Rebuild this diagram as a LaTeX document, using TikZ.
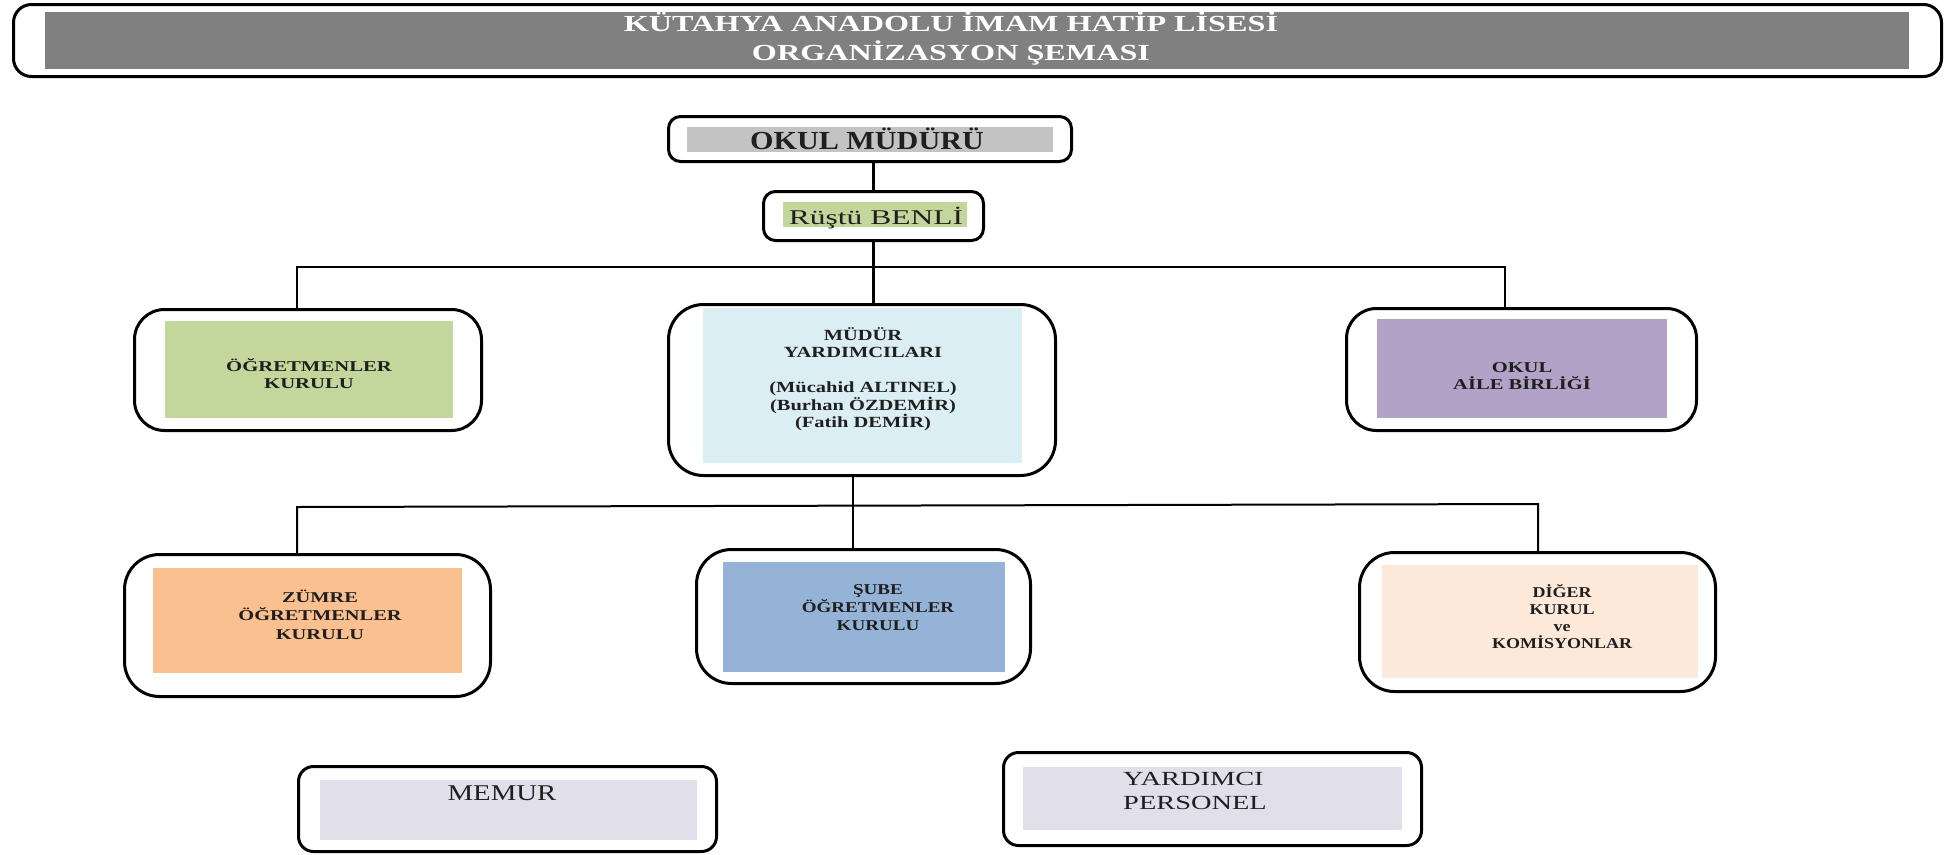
\documentclass[tikz,border=0pt]{standalone}
\usepackage{fontspec}
\usepackage{graphicx}
\setmainfont{Liberation Serif}
\definecolor{tgray}{HTML}{808080}
\definecolor{mgray}{HTML}{C3C3C3}
\definecolor{cgreen}{HTML}{C3D69B}
\definecolor{cblue}{HTML}{DBEEF4}
\definecolor{cpurp}{HTML}{B2A2C7}
\definecolor{corange}{HTML}{FAC090}
\definecolor{cbluetwo}{HTML}{95B3D7}
\definecolor{cpeach}{HTML}{FDE9D9}
\definecolor{clav}{HTML}{E1DFEA}
\newcommand{\myC}[1]{\hbox to 0pt{\hss#1\hss}}
\newcommand{\myL}[1]{\hbox{#1}}
\newcommand{\mlb}[4]{\scalebox{#1}[1]{\fontsize{#2}{#3}\selectfont\bfseries\vtop{\lineskiplimit=-100pt\relax#4}}}
\newcommand{\mlr}[4]{\scalebox{#1}[1]{\fontsize{#2}{#3}\selectfont\vtop{\lineskiplimit=-100pt\relax#4}}}
\begin{document}
\begin{tikzpicture}[x=1pt,y=-1pt,
  obox/.style={draw=black, line width=3pt, fill=white, inner sep=0pt},
  conn/.style={draw=black, line width=2.2pt},
  txt/.style={inner sep=0pt, anchor=base, text=black!88}]
\useasboundingbox (0,0) rectangle (1950,854);
\fill[white] (0,0) rectangle (1950,854);
% outer boxes
\node[obox, rounded corners=18pt, minimum width=1928pt, minimum height=72pt] (title) at (977.5,40.5) {};
\node[obox, rounded corners=12pt, minimum width=403pt, minimum height=45pt] (mudur) at (870,139) {};
\node[obox, rounded corners=12pt, minimum width=220pt, minimum height=49pt] (rustu) at (873.5,216) {};
\node[obox, rounded corners=30pt, minimum width=347pt, minimum height=121pt] (ogrt) at (308,370) {};
\node[obox, rounded corners=35pt, minimum width=387pt, minimum height=171pt] (yard) at (862,390) {};
\node[obox, rounded corners=30pt, minimum width=350pt, minimum height=122pt] (aile) at (1521.5,369.5) {};
\node[obox, rounded corners=35pt, minimum width=366pt, minimum height=142pt] (zumre) at (307.5,625.5) {};
\node[obox, rounded corners=35pt, minimum width=334pt, minimum height=134pt] (sube) at (863.5,616.5) {};
\node[obox, rounded corners=35pt, minimum width=356pt, minimum height=139pt] (diger) at (1537.5,622) {};
\node[obox, rounded corners=15pt, minimum width=418pt, minimum height=85pt] (memur) at (507.5,809) {};
\node[obox, rounded corners=15pt, minimum width=418pt, minimum height=93pt] (yrdp) at (1212.5,799) {};
% inner fills
\fill[tgray] (45,12) rectangle (1909,69);
\fill[mgray] (687,127) rectangle (1053,152);
\fill[cgreen] (783,202) rectangle (967,227);
\fill[cgreen] (165,321) rectangle (453,418);
\fill[cblue] (703,308) rectangle (1022,463);
\fill[cpurp] (1377,319) rectangle (1667,418);
\fill[corange] (153,568) rectangle (462,673);
\fill[cbluetwo] (723,562) rectangle (1005,672);
\fill[cpeach] (1382,565) rectangle (1698,678);
\fill[clav] (320,780) rectangle (697,840);
\fill[clav] (1023,767) rectangle (1402,830);
% connectors
\coordinate (j1L) at (297,267);
\coordinate (j1R) at (1505,267);
\coordinate (j2L) at (297,507);
\coordinate (j2M) at (853,506);
\coordinate (j2R) at (1538,504);
\draw[conn] (rustu.north |- mudur.south) -- (rustu.north);
\draw[conn] (rustu.south) -- (rustu.south |- yard.north);
\draw[conn, line width=2pt] (j1L |- ogrt.north) -- (j1L) -- (j1R) -- (j1R |- aile.north);
\draw[conn] (j2M |- yard.south) -- (j2M |- sube.north);
\draw[conn, line width=2pt] (j2L |- zumre.north) -- (j2L) -- (j2R) -- (j2R |- diger.north);
% texts
\node[txt, text=white] (ttl) at (951,31) {\mlb{1.4}{23}{29}{\myC{KÜTAHYA ANADOLU İMAM HATİP LİSESİ}\myC{ORGANİZASYON ŞEMASI}}};
\node[txt] (tmud) at (867,149) {\mlb{1.16}{26}{26}{\myC{OKUL MÜDÜRÜ}}};
\node[txt] (trus) at (876,224) {\mlr{1.5}{21}{21}{\myC{Rüştü BENLİ}}};
\node[txt] (togr) at (309,371) {\mlb{1.38}{15}{17}{\myC{ÖĞRETMENLER}\myC{KURULU}}};
\node[txt] (tyar) at (863,340) {\mlb{1.32}{15.5}{17.5}{\myC{MÜDÜR}\myC{YARDIMCILARI}\myC{}\myC{(Mücahid ALTINEL)}\myC{(Burhan ÖZDEMİR)}\myC{(Fatih DEMİR)}}};
\node[txt] (tail) at (1522,372) {\mlb{1.37}{15}{17}{\myC{OKUL}\myC{AİLE BİRLİĞİ}}};
\node[txt] (tzum) at (320,602) {\mlb{1.36}{15}{18.5}{\myC{ZÜMRE}\myC{ÖĞRETMENLER}\myC{KURULU}}};
\node[txt] (tsub) at (878,594) {\mlb{1.27}{15}{18}{\myC{ŞUBE}\myC{ÖĞRETMENLER}\myC{KURULU}}};
\node[txt] (tdig) at (1562,597) {\mlb{1.2}{15}{17}{\myC{DİĞER}\myC{KURUL}\myC{ve}\myC{KOMİSYONLAR}}};
\node[txt] (tmem) at (502,800) {\mlr{1.28}{22.5}{22.5}{\myC{MEMUR}}};
\node[txt, anchor=base west] (tyrd) at (1123,785) {\mlr{1.42}{20}{24}{\myL{YARDIMCI}\myL{PERSONEL}}};
\end{tikzpicture}
\end{document}
